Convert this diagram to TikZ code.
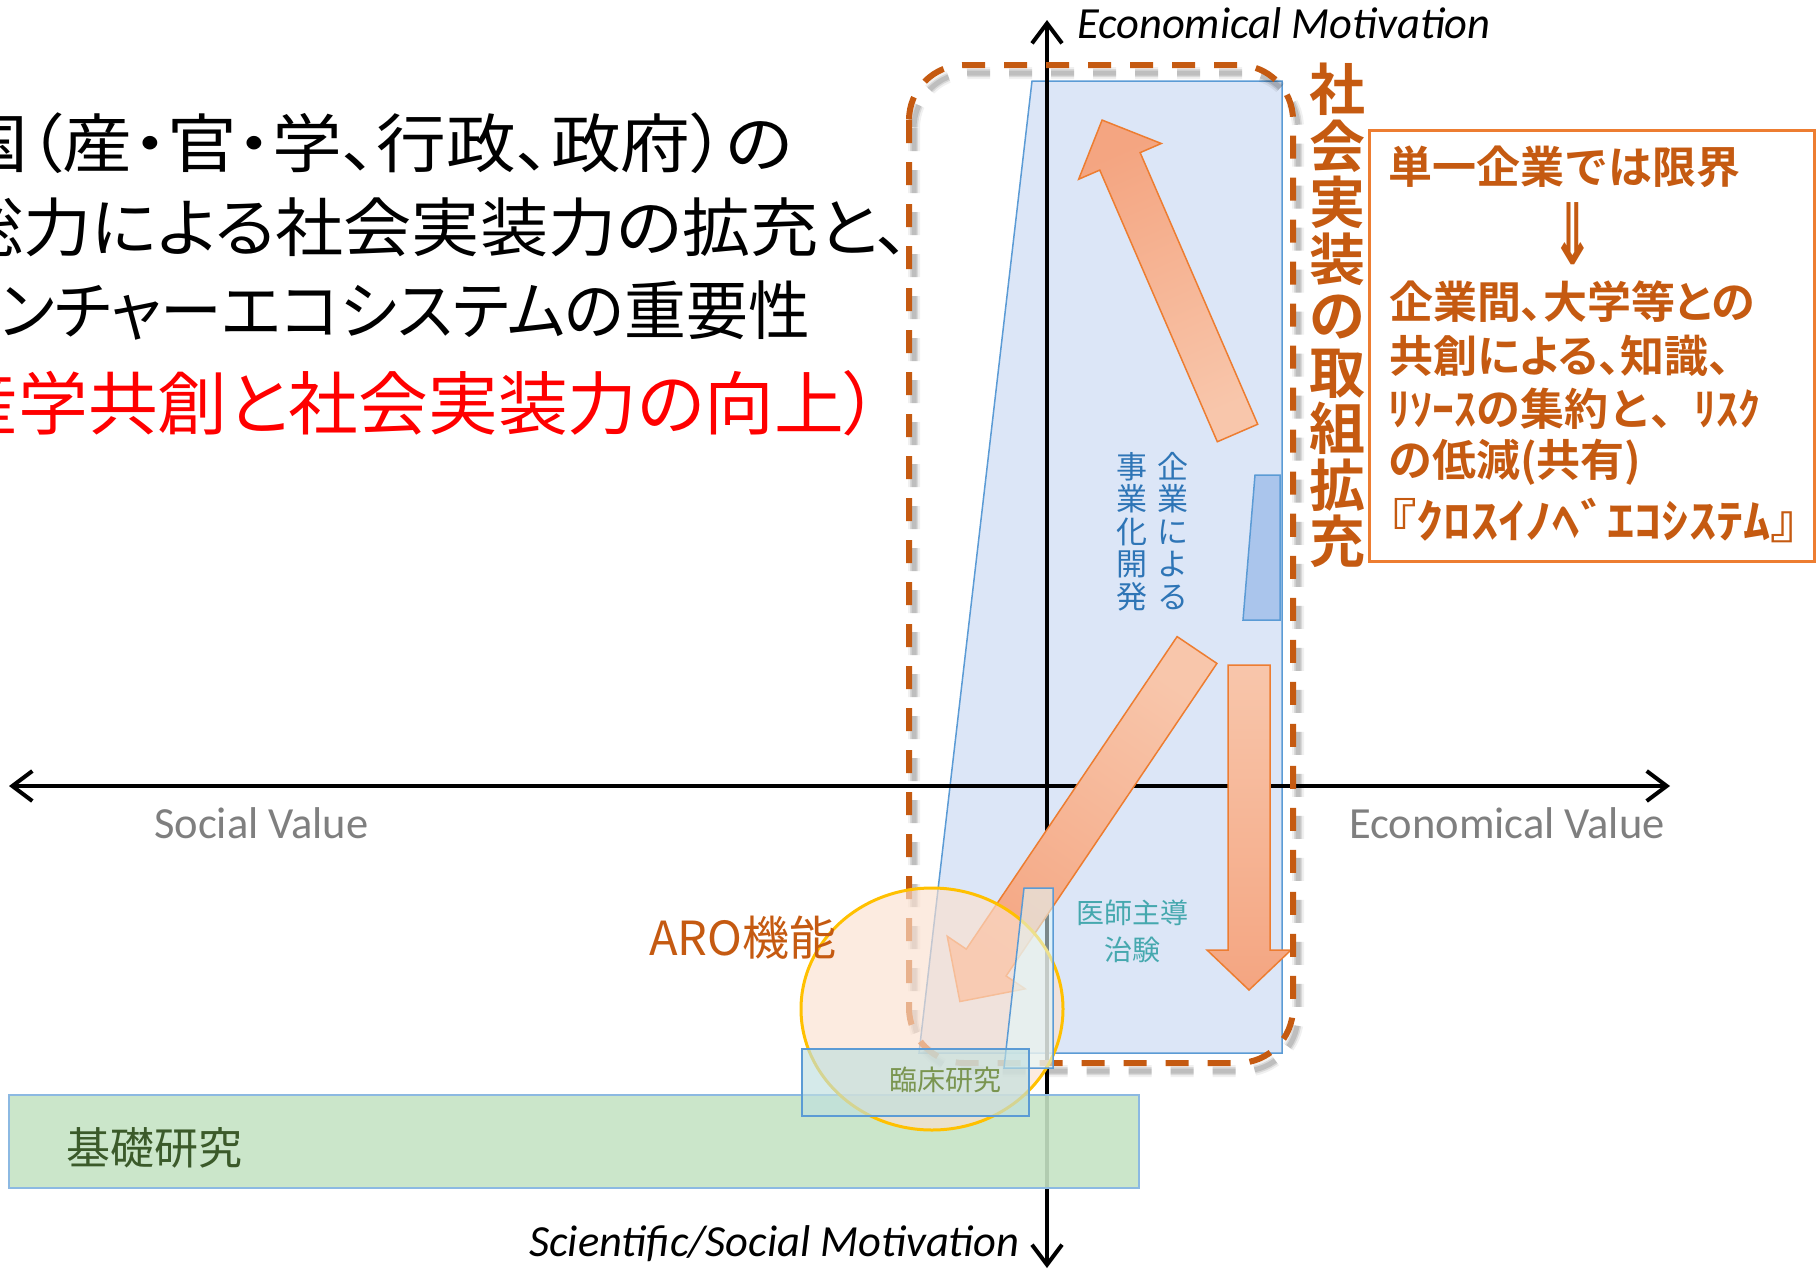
\documentclass[tikz,border=0pt]{standalone}
\usepackage{fontspec}
\setmainfont{Carlito}
\newfontfamily\jp{Noto Sans CJK JP}
\newfontfamily\jpp[RawFeature=+palt]{Noto Sans CJK JP}
\newfontfamily\jpb{Noto Sans CJK JP Bold}
\newfontfamily\jpbp[RawFeature=+palt]{Noto Sans CJK JP Bold}
\newfontfamily\dv{DejaVu Sans}
\usetikzlibrary{arrows.meta}
\definecolor{dorange}{HTML}{C55A11}
\definecolor{borange}{HTML}{ED7D31}
\definecolor{arrlight}{HTML}{F8C6AB}
\definecolor{arrdark}{HTML}{F4A581}
\definecolor{bluefill}{HTML}{DCE6F7}
\definecolor{blueline}{HTML}{5B9BD5}
\definecolor{darkbluefill}{HTML}{AAC5EC}
\definecolor{bluetext}{HTML}{2E75B6}
\definecolor{tealtext}{HTML}{45A8AE}
\definecolor{olivetext}{HTML}{7A9550}
\definecolor{greenfill}{HTML}{C5E3C4}
\definecolor{greentext}{HTML}{3B5A2A}
\definecolor{peach}{HTML}{FBE0CF}
\definecolor{ring}{HTML}{FFC000}
\definecolor{greytext}{HTML}{7F7F7F}
\newcommand\fs[1]{\fontsize{#1}{#1}\selectfont}
% tailx, taily, angle, length, shaft, headwidth, headlength, shadingangle
\newcommand\blockarrow[8]{%
  \begin{scope}[shift={(#1,#2)},rotate=#3]
    \path[draw=borange, line width=1.5pt, top color=arrdark, bottom color=arrlight, shading angle=#8]
      (0,{-#5/2}) -- ({#4-#7},{-#5/2}) -- ({#4-#7},{-#6/2}) -- (#4,0)
      -- ({#4-#7},{#6/2}) -- ({#4-#7},{#5/2}) -- (0,{#5/2}) -- cycle;
  \end{scope}}
\begin{document}
\begin{tikzpicture}[x=1pt,y=-1pt,
  axis/.style={line width=4pt, black},
  lbl/.style={inner sep=0pt},
  pane/.style={draw=blueline, line width=1.5pt},
  dashbox/.style={rounded corners=55pt, dash pattern=on 23pt off 19pt},
]
\useasboundingbox (0,0) rectangle (1816,1272);
\clip (0,0) rectangle (1816,1272);

% blue trapezoid and small darker pane
\path[pane, fill=bluefill] (1032,81) -- (1282,81) -- (1282,1053) -- (919,1053) -- cycle;
\path[pane, fill=darkbluefill] (1255,475) -- (1280,475) -- (1280,620) -- (1243,620) -- cycle;

% axes
\coordinate (xl) at (9,786);
\coordinate (xr) at (1670,786);
\coordinate (yt) at (1047,20);
\coordinate (yb) at (1047,1268);
\draw[axis, {Straight Barb[length=20pt,width=30pt]}-{Straight Barb[length=20pt,width=30pt]}] (xl) -- (xr);
\draw[axis, {Straight Barb[length=20pt,width=30pt]}-{Straight Barb[length=20pt,width=30pt]}] (yt) -- (yb);

% basic research bar
\path[draw=blueline!70, line width=1.5pt, fill=greenfill, fill opacity=0.9] (9,1095) rectangle (1139,1188);

% block arrows
\blockarrow{1237.5}{433}{113.4}{341}{44}{90}{45}{23.4}
\blockarrow{1197}{650}{236}{424}{48}{94}{47}{146}
\blockarrow{1249}{665}{-90}{325}{42}{84}{40}{-180}

% dashed rounded box with soft shadow
\begin{scope}[shift={(5,8)}]
  \draw[dashbox, line width=12pt, black, opacity=0.06] (909,65) rectangle (1293,1063);
  \draw[dashbox, line width=8pt, black, opacity=0.10] (909,65) rectangle (1293,1063);
  \draw[dashbox, line width=5pt, black, opacity=0.12] (909,65) rectangle (1293,1063);
\end{scope}
\draw[dashbox, line width=6pt, dorange] (909,65) rectangle (1293,1063);

% ARO circle
\path[draw=ring, line width=3pt, fill=peach, fill opacity=0.65] (932,1009) ellipse [x radius=131, y radius=121];

% small slanted pane near axis
\path[pane, fill=bluefill!60!cyan!25, fill opacity=0.55] (1024,888) -- (1053,888) -- (1053,1068) -- (1004,1068) -- cycle;

% clinical research box
\path[pane, fill=teal!25, fill opacity=0.65] (802,1049) rectangle (1029,1116);

% orange right box
\path[draw=borange, line width=3pt, fill=white] (1369,130) rectangle (1814,561);

% title
\node[lbl, anchor=east] (t1) at (793,143) {\jpp\fs{64}\scalebox{1.09}[1]{国（産・官・学、行政、政府）の}};
\node[lbl, anchor=east] (t2) at (910,227) {\jpp\fs{64}\scalebox{1.065}[1]{総力による社会実装力の拡充と、}};
\node[lbl, anchor=east] (t3) at (810,310) {\jpp\fs{64}\scalebox{0.965}[1]{ベンチャーエコシステムの重要性}};
\node[lbl, anchor=east, text=red] (t4) at (879,403) {\jpp\fs{69}\scalebox{1.01}[1]{（産学共創と社会実装力の向上）}};

% axis labels
\node[lbl, anchor=base west] (em) at (1077,38) {\fs{44.5}\itshape Economical Motivation};
\node[lbl, anchor=base west] (sm) at (529,1256) {\fs{44.5}\itshape Scientific/Social Motivation};
\node[lbl, anchor=base west, text=greytext] (sv) at (154,838) {\fs{44.5}Social Value};
\node[lbl, anchor=base west, text=greytext] (ev) at (1349,838) {\fs{44.5}Economical Value};

% vertical labels
\node[lbl, anchor=north, align=center, text=dorange, font=\jpb\fontsize{56}{56.5}\selectfont] (impl) at (1337,63)
  {社\\会\\実\\装\\の\\取\\組\\拡\\充};
\node[lbl, anchor=north, align=center, text=bluetext, font=\jp\fontsize{31}{32.5}\selectfont] (kig1) at (1173,452)
  {企\\業\\に\\よ\\る};
\node[lbl, anchor=north, align=center, text=bluetext, font=\jp\fontsize{31}{32.5}\selectfont] (kig2) at (1132,452)
  {事\\業\\化\\開\\発};

% other labels
\node[lbl, align=center, text=tealtext, font=\jp\fontsize{28}{37}\selectfont] (ishi) at (1132,931)
  {医師主導\\治験};
\node[lbl, text=olivetext] (rinsho) at (945,1080) {\jp\fs{28}臨床研究};
\node[lbl, anchor=west, text=greentext] (kiso) at (66,1148) {\jp\fs{44}基礎研究};
\node[lbl, anchor=west, text=dorange] (aro) at (649,938) {\jp\fs{47}ARO機能};

% orange box text
\node[lbl, anchor=west, text=dorange] (b1) at (1388,167) {\jpb\fs{44}単一企業では限界};
\node[lbl, text=dorange] (b2) at (1573,234) {\dv\bfseries\fs{85}\scalebox{0.6}[1]{⇓}};
\node[lbl, anchor=west, text=dorange] (b3) at (1389,302) {\jpbp\fs{44}企業間､大学等との};
\node[lbl, anchor=west, text=dorange] (b4) at (1389,356) {\jpbp\fs{44}共創による、知識、};
\node[lbl, anchor=west, text=dorange] (b5) at (1388,409) {\jpb\fs{44}ﾘｿｰｽの集約と、ﾘｽｸ};
\node[lbl, anchor=west, text=dorange] (b6) at (1388,462) {\jpb\fs{44}の低減(共有)};
\node[lbl, anchor=west, text=dorange] (b7) at (1389,520) {\jpbp\fs{47}\scalebox{1.16}[1]{『ｸﾛｽｲﾉﾍﾞｴｺｼｽﾃﾑ』}};
\end{tikzpicture}
\end{document}
